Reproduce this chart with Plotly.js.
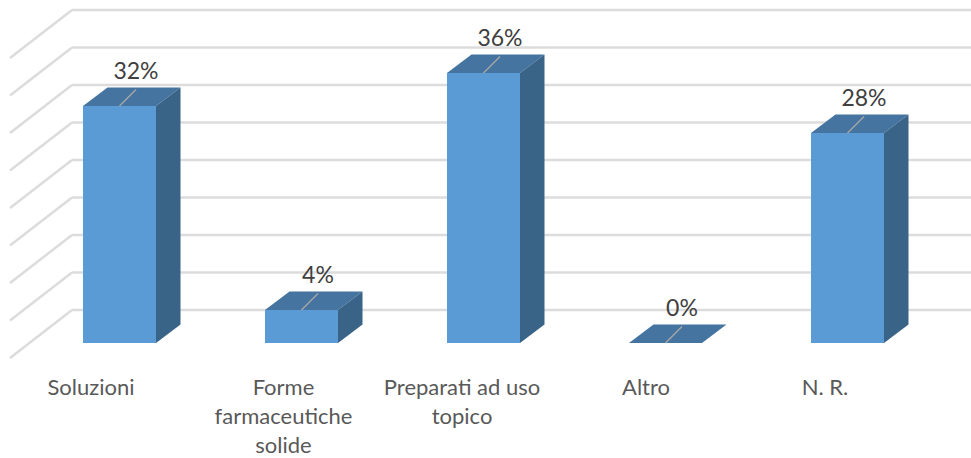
<!DOCTYPE html>
<html>
<head>
<meta charset="utf-8">
<script src="https://cdn.plot.ly/plotly-3.0.1.min.js"></script>
<style>html,body{margin:0;padding:0;background:#fff;overflow:hidden}</style>
</head>
<body>
<div id="chart" style="width:971px;height:458px"></div>
<script>
// Data
const categories = ["Soluzioni", "Forme<br>farmaceutiche<br>solide", "Preparati ad uso<br>topico", "Altro", "N. R."];
const values = [31.6, 4.4, 36, 0, 28];
const valueLabels = ["32%", "4%", "36%", "0%", "28%"];
const gridLevels = [0, 5, 10, 15, 20, 25, 30, 35, 40];
const tickCentres = [-0.157, 0.901, 1.882, 2.893, 3.876];

// Scale and pseudo-3D projection
const W = 971, H = 458, plotH = 371;
const pxX = 182, pxY = 7.5;
const xRange = [-119.5 / pxX, (W - 119.5) / pxX];
const yRange = [-(plotH - 343) / pxY, 343 / pxY];
const barW = 73 / pxX;
const depthX = 24.5 / pxX, depthY = 18.5 / pxY;
const leadX = 16.5 / pxX, leadY = 16.5 / pxY, labelRise = 5 / pxY;
const wallX = xRange[0] + 72 / pxX, wallY = 33 / pxY;
const edgeX = xRange[0] + 10 / pxX, edgeY = -15 / pxY;
const idx = categories.map((_, i) => i);

const colFront = "#5b9bd5", colTop = "#44749f", colSide = "#3a6388";

const poly = (xs, ys, color, name) => ({
  type: "scatter", mode: "lines", x: xs, y: ys, fill: "toself", fillcolor: color,
  line: { width: 0, color: color }, hoverinfo: "skip", showlegend: false, name: name
});

const traces = [{
  type: "bar", x: idx, y: values, width: barW, marker: { color: colFront, line: { width: 0 } },
  showlegend: false, hoverinfo: "y", name: "Front"
}];
idx.forEach(i => {
  const v = values[i], l = i - barW / 2, r = i + barW / 2;
  traces.push(poly([l, r, r + depthX, l + depthX, l], [v, v, v + depthY, v + depthY, v], colTop, "Top"));
  if (v > 0) traces.push(poly([r, r + depthX, r + depthX, r, r], [0, depthY, v + depthY, v, 0], colSide, "Side"));
});
traces.push({
  type: "scatter", mode: "lines",
  x: idx.flatMap(i => [i, i + leadX, null]),
  y: idx.flatMap(i => [values[i], values[i] + leadY, null]),
  line: { color: "#a6a6a6", width: 1.5 }, hoverinfo: "skip", showlegend: false
});
traces.push({
  type: "scatter", mode: "text",
  x: idx.map(i => i + leadX), y: idx.map(i => values[i] + leadY + labelRise),
  text: valueLabels, textposition: "top center",
  textfont: { family: "Lato, sans-serif", size: 23, color: "#404040" },
  hoverinfo: "skip", showlegend: false
});

const gridLine = { color: "#dcdcdc", width: 2.5 };
const shapes = gridLevels.flatMap(g => [
  { type: "line", layer: "below", xref: "x", yref: "y", x0: wallX, x1: xRange[1], y0: g + wallY, y1: g + wallY, line: gridLine },
  { type: "line", layer: "below", xref: "x", yref: "y", x0: edgeX, x1: wallX, y0: g + edgeY, y1: g + wallY, line: gridLine }
]);

const layout = {
  width: W, height: H, margin: { l: 0, r: 0, t: 0, b: H - plotH, pad: 0 },
  paper_bgcolor: "#fff", plot_bgcolor: "#fff", showlegend: false, shapes: shapes,
  xaxis: {
    range: xRange, showgrid: false, zeroline: false, showline: false, ticks: "",
    tickmode: "array", tickvals: tickCentres,
    ticktext: categories.map(c => '<span style="font-size:22px">' + c.replace(/<br>/g, '</span><br><span style="font-size:22px">') + '</span>'),
    tickangle: 0, tickfont: { family: "Lato, sans-serif", size: 22.5, color: "#595959" }
  },
  yaxis: { range: yRange, visible: false, showgrid: false, zeroline: false }
};
Plotly.newPlot("chart", traces, layout, { displayModeBar: false, staticPlot: true });
</script>
</body>
</html>
